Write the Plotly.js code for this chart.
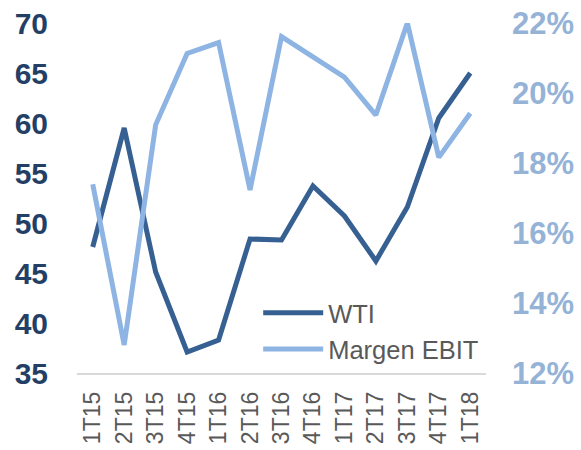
<!DOCTYPE html>
<html>
<head>
<meta charset="utf-8">
<script src="https://cdn.plot.ly/plotly-3.0.1.min.js"></script>
<style>html,body{margin:0;padding:0;background:#fff;}#chart{width:581px;height:450px;}</style>
</head>
<body>
<div id="chart"></div>
<script>
const categories = ["1T15","2T15","3T15","4T15","1T16","2T16","3T16","4T16","1T17","2T17","3T17","4T17","1T18"];
const wti = [47.6, 59.5, 45.1, 37.1, 38.3, 48.4, 48.3, 53.7, 50.7, 46.2, 51.6, 60.5, 65.0];
const margenEbit = [17.39, 12.8, 19.09, 21.13, 21.44, 17.23, 21.61, 21.04, 20.45, 19.37, 22.0, 18.16, 19.42];
const leftTicks = [35, 40, 45, 50, 55, 60, 65, 70];
const rightTicks = [12, 14, 16, 18, 20, 22];

const traces = [
  {x: categories, y: wti, name: "WTI", type: "scatter", mode: "lines",
   line: {color: "#376092", width: 5}, yaxis: "y"},
  {x: categories, y: margenEbit, name: "Margen EBIT", type: "scatter", mode: "lines",
   line: {color: "#8EB4E3", width: 5}, yaxis: "y2"}
];

const layout = {
  width: 581, height: 450,
  margin: {l: 77, r: 95, t: 23, b: 77},
  paper_bgcolor: "#ffffff", plot_bgcolor: "#ffffff",
  font: {family: "Liberation Sans, Arial, sans-serif"},
  showlegend: true,
  legend: {x: 0.443, y: 0.238, xanchor: "left", yanchor: "top",
    font: {size: 25.5, color: "#595959"}, bgcolor: "rgba(0,0,0,0)", itemwidth: 60,
    tracegroupgap: 0},
  xaxis: {type: "category", range: [-0.5, 12.5], showgrid: false, zeroline: false,
    showline: true, linecolor: "#D9D9D9", linewidth: 1.5, ticks: "",
    tickangle: -90, ticklabelstandoff: 8, tickfont: {size: 23, color: "#595959"}},
  yaxis: {range: [35, 70], tickvals: leftTicks, showgrid: false, zeroline: false,
    showline: false, ticks: "", ticklabelstandoff: 28,
    tickfont: {size: 30, color: "#243F66", weight: "bold"}},
  yaxis2: {range: [12, 22], overlaying: "y", side: "right", tickvals: rightTicks,
    ticktext: rightTicks.map(v => v + "%"), showgrid: false, zeroline: false,
    showline: false, ticks: "", ticklabelstandoff: 25,
    tickfont: {size: 31, color: "#95B3D7", weight: "bold"}}
};

Plotly.newPlot("chart", traces, layout, {displayModeBar: false, staticPlot: true});
</script>
</body>
</html>
